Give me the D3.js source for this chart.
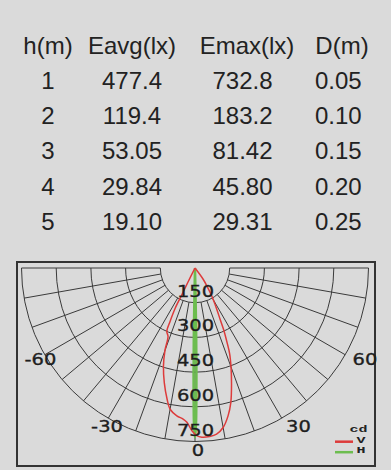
<!DOCTYPE html>
<html><head><meta charset="utf-8">
<script src="https://cdn.jsdelivr.net/npm/d3@7"></script>
<style>html,body{margin:0;padding:0;background:#dadada;} svg{display:block}</style>
</head><body>
<script>
// ---- data ----
const headers = ["h(m)", "Eavg(lx)", "Emax(lx)", "D(m)"];
const heights = ["1", "2", "3", "4", "5"];
const eavg = ["477.4", "119.4", "53.05", "29.84", "19.10"];
const emax = ["732.8", "183.2", "81.42", "45.80", "29.31"];
const diam = ["0.05", "0.10", "0.15", "0.20", "0.25"];

const cdTicks = [150, 300, 450, 600, 750];
const angleTicks = [-60, -30, 0, 30, 60];
const gridAngles = d3.range(-90, 91, 10);

// V plane (red) : angle (deg from nadir, + to the right), intensity (cd)
const vAngles = [-27, -26.5, -26.2, -26.2, -25, -24, -21.5, -20, -17.8, -15, -12, -10, -7, -4.5, -3, -1, 0.6, 2.3, 5, 7.4, 10, 12.6, 14.9, 17.5, 20, 22, 23.3, 25, 26.2, 28, 31, 33, 36, 37];
const vCd     = [0, 70, 130, 195, 256, 300, 318, 380, 446, 513, 580, 620, 644, 655, 668, 705, 725, 732, 731, 724, 700, 655, 602, 525, 455, 400, 350, 290, 243, 198, 140, 100, 60, 0];
// H plane (green)
const hAngles = [-2, -1.0, -0.7, -0.35, 0, 0.35, 0.7, 1.0, 2];
const hCd     = [0, 300, 500, 680, 733, 680, 500, 300, 0];

const legendLabels = ["V", "H"];
const legendColors = ["#dd3b3b", "#6cbd4f"];

// ---- setup ----
const W = 391, H = 470;
const svg = d3.select("body").append("svg").attr("width", W).attr("height", H);
svg.append("rect").attr("width", W).attr("height", H).attr("fill", "#dadada");

// ---- table ----
const colHeaderX = [48, 132, 247, 342];
const colValueX = [48, 132, 242.5, 338.3];
const rowY = d3.scaleLinear().domain([0, 5]).range([53.5, 230]);
const columns = [heights, eavg, emax, diam];
const tbl = svg.append("g")
  .attr("font-family", "'Liberation Sans', Arial, sans-serif")
  .attr("font-size", 24).attr("fill", "#222").attr("text-anchor", "middle");
tbl.selectAll("text.hdr").data(headers).join("text").attr("class", "hdr")
  .attr("x", (d, i) => colHeaderX[i]).attr("y", rowY(0)).text(d => d);
columns.forEach((col, ci) => {
  tbl.selectAll("text.c" + ci).data(col).join("text").attr("class", "c" + ci)
    .attr("x", colValueX[ci]).attr("y", (d, i) => rowY(i + 1)).text(d => d);
});

// ---- polar chart ----
const cx = 195, cy = 268;
const r = d3.scaleLinear().domain([0, 750]).range([0, 173.5]);
const rad = d => d * Math.PI / 180;
const pt = (deg, rr) => [cx + rr * Math.sin(rad(deg)), cy + rr * Math.cos(rad(deg))];

svg.append("rect").attr("x", 17).attr("y", 262).attr("width", 358).attr("height", 204)
  .attr("fill", "none").attr("stroke", "#333").attr("stroke-width", 2);

const grid = svg.append("g").attr("fill", "none").attr("stroke", "#3a3a3a").attr("stroke-width", 1);
grid.selectAll("path.ring").data(cdTicks).join("path").attr("class", "ring")
  .attr("d", d => { const p = d3.path(); p.arc(cx, cy, r(d), 0, Math.PI); return p.toString(); });
grid.selectAll("line.ray").data(gridAngles).join("line").attr("class", "ray")
  .attr("x1", d => pt(d, r(cdTicks[0]))[0]).attr("y1", d => pt(d, r(cdTicks[0]))[1])
  .attr("x2", d => pt(d, r(d3.max(cdTicks)))[0]).attr("y2", d => pt(d, r(d3.max(cdTicks)))[1]);

const radial = d3.lineRadial()
  .angle(d => Math.PI - rad(d[0]))
  .radius(d => r(d[1]))
  .curve(d3.curveCatmullRom.alpha(0.5));

const plot = svg.append("g").attr("transform", `translate(${cx},${cy})`).attr("fill", "none");
plot.append("path").datum(hAngles.map((a, i) => [a, hCd[i]]))
  .attr("d", radial).attr("stroke", legendColors[1]).attr("stroke-width", 2.5).attr("stroke-linejoin", "round");
plot.append("path").datum(vAngles.map((a, i) => [a, vCd[i]]))
  .attr("d", radial).attr("stroke", legendColors[0]).attr("stroke-width", 1.5).attr("stroke-linejoin", "round");

// cd labels (horizontally stretched font as in the reference)
const lbl = svg.append("g").attr("font-family", "'DejaVu Sans', sans-serif").attr("font-size", 16.5)
  .attr("fill", "#1e1e1e").attr("stroke", "#1e1e1e").attr("stroke-width", 0.35);
lbl.selectAll("text.cd").data(cdTicks).join("text").attr("class", "cd")
  .attr("transform", d => `translate(${cx + 0.5},${cy + r(d) - 6}) scale(1.18,1)`)
  .attr("text-anchor", "middle").text(d => d);

// angle labels
const labR = 182;
lbl.selectAll("text.ang").data(angleTicks).join("text").attr("class", "ang")
  .attr("transform", d => {
    const p = pt(d, labR);
    const dx = d <= 0 ? 3 : 0;
    return `translate(${p[0] + dx},${p[1]}) scale(1.18,1)`;
  })
  .attr("dy", "0.36em")
  .attr("text-anchor", d => d <= 0 ? "middle" : "start")
  .text(d => d);

// legend
const leg = svg.append("g");
leg.selectAll("line").data(legendColors).join("line")
  .attr("x1", 335).attr("x2", 353).attr("y1", (d, i) => 441.7 + i * 10.5).attr("y2", (d, i) => 441.7 + i * 10.5)
  .attr("stroke", d => d).attr("stroke-width", 2.5);
const legText = leg.append("g").attr("font-family", "'Liberation Mono', 'Courier New', monospace")
  .attr("font-weight", "bold").attr("font-size", 12).attr("fill", "#222");
legText.append("text").attr("transform", "translate(367.5,432) scale(1.25,0.8)").attr("text-anchor", "end").text("cd");
legText.selectAll("text.lg").data(legendLabels).join("text").attr("class", "lg")
  .attr("transform", (d, i) => `translate(361,${442.5 + i * 10.5}) scale(1.25,0.8)`)
  .attr("text-anchor", "middle").text(d => d);
</script>
</body></html>
